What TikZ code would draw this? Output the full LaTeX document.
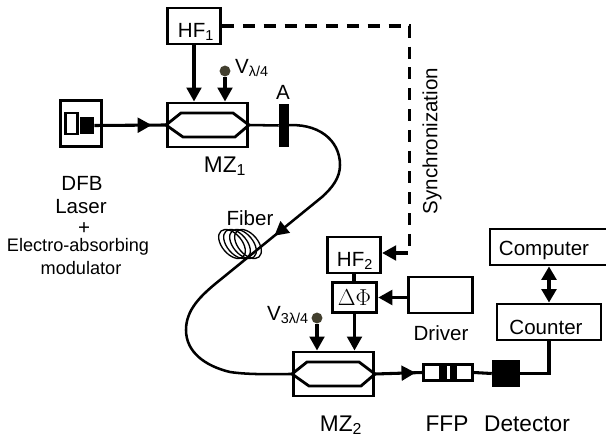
\documentclass[tikz,border=0pt]{standalone}
\usepackage{fontspec}
\setmainfont{Liberation Sans}
\usetikzlibrary{arrows.meta,decorations.markings}
\tikzset{
    unit/.style={draw, line width=2.2pt, rectangle, inner sep=0pt},
    lbl/.style={font=\fontsize{15.4}{17}\selectfont, inner sep=0pt},
    biglbl/.style={font=\fontsize{17}{19}\selectfont, inner sep=0pt},
    smalllbl/.style={font=\fontsize{13.6}{15}\selectfont, inner sep=0pt},
    wire/.style={line width=2.3pt},
    arrowwire/.style={line width=2.3pt, -{Triangle[length=10.5pt,width=11pt]}},
    fiber/.style={line width=1.9pt},
    midtip/.style={postaction={decorate}, decoration={markings, mark=at position #1 with {\arrow{Triangle[length=10.5pt,width=11pt]}}}},
    dotsrc/.style={circle, fill=black!70!olive, inner sep=0pt, minimum size=8.2pt},
    solid box/.style={fill=black, inner sep=0pt},
}
\begin{document}
\begin{tikzpicture}[x=0.75pt,y=-0.75pt]
    \useasboundingbox (0,0) rectangle (606,438);
    % boxes
    \node[unit, minimum width=40pt, minimum height=27pt] (hfone) at (194,26) {};
    \node[lbl] at (196,32) {HF\textsubscript{1}};
    \node[unit, minimum width=31pt, minimum height=35pt] (laser) at (81,123.5) {};
    \node[unit, minimum width=60pt, minimum height=33pt] (mzone) at (207.5,125) {};
    \node[draw, line width=1.8pt, minimum width=9pt, minimum height=16pt, inner sep=0pt] (diode) at (71.5,123.5) {};
    \node[solid box, minimum width=10.5pt, minimum height=13pt] (chip) at (87,125.5) {};
    \node[solid box, minimum width=7.5pt, minimum height=32pt] (atten) at (284,125.5) {};
    \node[dotsrc] (vone) at (225,71) {};
    \node[unit, minimum width=40pt, minimum height=27pt] (hftwo) at (354,255) {};
    \node[lbl] at (355,261) {HF\textsubscript{2}};
    \node[unit, minimum width=33.5pt, minimum height=23pt] (phase) at (354.5,297.5) {\fontsize{17}{19}\selectfont$\Delta\Phi$};
    \node[unit, minimum width=48pt, minimum height=27pt] (driver) at (440.5,295) {};
    \node[dotsrc] (vtwo) at (317,318) {};
    \node[unit, minimum width=60pt, minimum height=33pt] (mztwo) at (333.5,374) {};
    \node[draw, line width=1.8pt, minimum width=37pt, minimum height=12pt, inner sep=0pt] (ffp) at (448,372.5) {};
    \node[solid box, minimum width=5.5pt, minimum height=12pt] (mirrorA) at (443,372.5) {};
    \node[solid box, minimum width=5.5pt, minimum height=12pt] (mirrorB) at (453.5,372.5) {};
    \node[solid box, minimum width=21pt, minimum height=20.5pt] (det) at (506,373.5) {};
    \node[unit, minimum width=78pt, minimum height=27pt] (counter) at (549,322) {};
    \node[unit, minimum width=88.5pt, minimum height=27pt] (computer) at (549,247) {};
    \coordinate (dashcorner) at (409.5,253);
    \coordinate (dashend) at (395,253);
    % labels
    \node[biglbl] at (225,166) {MZ\textsubscript{1}};
    \node[lbl] at (283,92) {A};
    \node[lbl] at (252,68) {V\textsubscript{λ/4}};
    \node[lbl] at (82,183) {DFB};
    \node[lbl] at (81,207) {Laser};
    \node[lbl] at (84,229) {+};
    \node[smalllbl] at (78,247) {Electro-absorbing};
    \node[smalllbl] at (81,268) {modulator};
    \node[lbl] at (250,218) {Fiber};
    \node[lbl, rotate=90] at (432,141) {Synchronization};
    \node[lbl] at (288,315) {V\textsubscript{3λ/4}};
    \node[lbl] at (441,333) {Driver};
    \node[biglbl] at (341,425) {MZ\textsubscript{2}};
    \node[biglbl] at (447,424) {FFP};
    \node[biglbl] at (527,424) {Detector};
    \node[lbl] at (544,250) {Computer};
    \node[lbl] at (546,327) {Counter};
    % connectors
    \draw[arrowwire] (hfone.south) -- (hfone.south |- mzone.north);
    \draw[arrowwire] (vone) -- (vone |- mzone.north);
    \draw[wire, midtip=0.8] (chip.east) -- (mzone.west);
    \draw[wire, dash pattern=on 9pt off 6.6pt] (hfone.east) -- (hfone.east -| dashcorner) -- (dashcorner) -- (dashend);
    \draw[arrowwire] (dashend) -- (hftwo.east |- dashend);
    \draw[wire] (hftwo.south) -- (hftwo.south |- phase.north);
    \draw[arrowwire] (driver.west |- phase.east) -- (phase.east);
    \draw[arrowwire] (phase.south) -- (phase.south |- mztwo.north);
    \draw[arrowwire] (vtwo) -- (vtwo |- mztwo.north);
    \draw[wire, midtip=0.86] (mztwo.east) -- (ffp.west);
    \draw[wire] (ffp.east) -- (det.west);
    \draw[wire] (det.east) -| (counter.south);
    \draw[line width=2.3pt, {Triangle[length=10pt,width=11pt]}-{Triangle[length=10pt,width=11pt]}] (computer.south -| counter.south) -- (counter.north);
    % interferometer arms
    \foreach \mz in {mzone,mztwo}
        \draw[line width=2.1pt] (\mz.west) -- ++(15,-12) -- ++(52,0) -- (\mz.east) -- ++(-14,12) -- ++(-52,0) -- cycle;
    % fiber
    \draw[fiber] (mzone.east) -- (atten.west);
    \draw[fiber, midtip=0.405] (atten.center) .. controls (318,122) and (340,140) .. (340,165)
        .. controls (340,178) and (332,188) .. (322,197) -- (220,280)
        .. controls (200,296) and (186,310) .. (186,330)
        .. controls (186,352) and (205,366) .. (230,372)
        .. controls (250,375) and (275,374) .. (mztwo.west);
    \foreach \cx in {232,237,243,248}
        \draw[line width=1pt] (\cx,244) circle [x radius=17, y radius=10, rotate=-50];
\end{tikzpicture}
\end{document}
